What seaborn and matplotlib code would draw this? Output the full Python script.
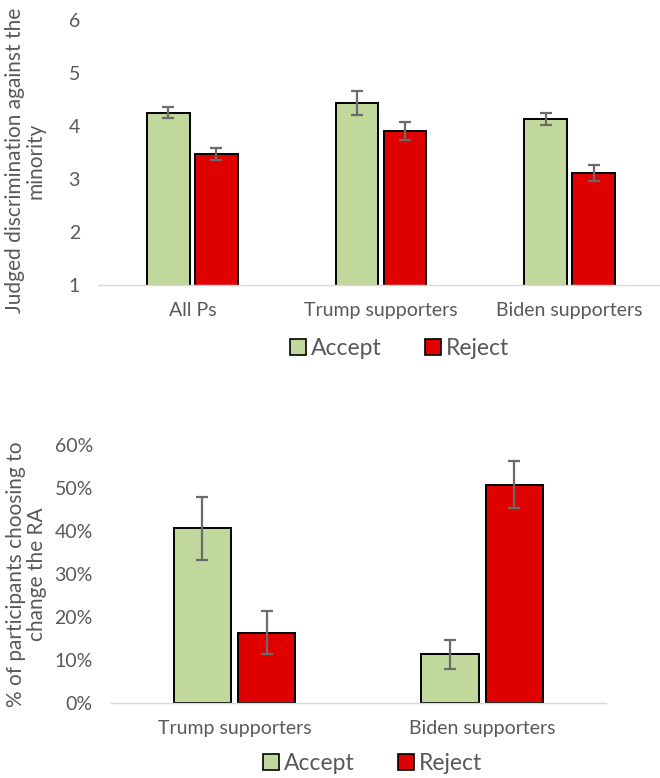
import matplotlib
matplotlib.use("Agg")
import matplotlib.pyplot as plt
import pandas as pd
import seaborn as sns
from matplotlib.patches import Patch
from matplotlib.ticker import FuncFormatter

# Judged discrimination (1-7 scale) by participant group and decision
conditions = ["Accept", "Reject"]
groups_top = ["All Ps", "Trump supporters", "Biden supporters"]
accept_top = [4.25, 4.43, 4.13]
reject_top = [3.47, 3.91, 3.12]
accept_top_err = [0.10, 0.23, 0.11]
reject_top_err = [0.11, 0.17, 0.15]

# Percentage of participants choosing to change the RA
groups_bottom = ["Trump supporters", "Biden supporters"]
accept_bottom = [40.6, 11.3]
reject_bottom = [16.3, 50.8]
accept_bottom_err = [7.3, 3.3]
reject_bottom_err = [5.0, 5.5]

colors = {"Accept": "#C0D89B", "Reject": "#DF0000"}
text_gray = "#595959"
font = ["Lato", "DejaVu Sans"]

sns.set_style("white")
plt.rcParams["font.family"] = font


def long_table(groups, acc, rej, acc_err, rej_err):
    rows = []
    for g, v, e in zip(groups, acc, acc_err):
        rows.append({"group": g, "condition": "Accept", "value": v, "err": e})
    for g, v, e in zip(groups, rej, rej_err):
        rows.append({"group": g, "condition": "Reject", "value": v, "err": e})
    return pd.DataFrame(rows)


def draw(ax, df, groups, width, gap, legend_anchor):
    sns.barplot(data=df, x="group", y="value", hue="condition",
                order=groups, hue_order=conditions, palette=colors,
                errorbar=None, width=width, gap=gap, saturation=1,
                edgecolor="black", linewidth=1.4, ax=ax)
    for cond, container in zip(conditions, ax.containers):
        sub = df[df.condition == cond].set_index("group").loc[groups]
        xs = [p.get_x() + p.get_width() / 2 for p in container.patches]
        ax.errorbar(xs, sub["value"].values, yerr=sub["err"].values,
                    fmt="none", ecolor="#6B6B6B", elinewidth=1.6,
                    capsize=4, capthick=1.6, zorder=5)
    if ax.get_legend() is not None:
        ax.get_legend().remove()
    for s in ["top", "right", "left"]:
        ax.spines[s].set_visible(False)
    ax.spines["bottom"].set_color("#D9D9D9")
    ax.spines["bottom"].set_linewidth(1.0)
    ax.tick_params(axis="both", length=0, labelsize=14, colors=text_gray)
    ax.tick_params(axis="x", pad=12)
    ax.tick_params(axis="y", pad=13)
    ax.set_xlabel("")
    handles = [Patch(facecolor=colors[c], edgecolor="black", linewidth=1.2,
                     label=c) for c in conditions]
    leg = ax.legend(handles=handles, loc="center", ncol=2, frameon=False,
                    bbox_to_anchor=legend_anchor, fontsize=16.5,
                    handlelength=0.7, handleheight=0.7, handletextpad=0.22,
                    columnspacing=1.9, borderpad=0, borderaxespad=0)
    for t in leg.get_texts():
        t.set_color(text_gray)


fig = plt.figure(figsize=(6.6, 7.78), dpi=100)

ax1 = fig.add_axes([0.1485, 0.6337, 0.8576, 0.3406])
df_top = long_table(groups_top, accept_top, reject_top,
                    accept_top_err, reject_top_err)
draw(ax1, df_top, groups_top, width=0.51, gap=0.115,
     legend_anchor=(0.533, -0.24))
ax1.set_ylim(1, 6)
ax1.set_yticks([1, 2, 3, 4, 5, 6])
ax1.set_xlim(-0.5, 2.5)
ax1.set_ylabel("Judged discrimination against the\nminority",
               fontsize=15, color=text_gray, linespacing=1.05)
ax1.yaxis.set_label_coords(-0.092, 0.47)

ax2 = fig.add_axes([0.168, 0.0964, 0.75, 0.3316])
df_bot = long_table(groups_bottom, accept_bottom, reject_bottom,
                    accept_bottom_err, reject_bottom_err)
draw(ax2, df_bot, groups_bottom, width=0.52, gap=0.11,
     legend_anchor=(0.529, -0.236))
ax2.set_ylim(0, 60)
ax2.set_yticks([0, 10, 20, 30, 40, 50, 60])
ax2.yaxis.set_major_formatter(FuncFormatter(lambda v, _: f"{v:.0f}%"))
ax2.set_xlim(-0.5, 1.5)
ax2.set_ylabel("% of participants choosing to\nchange the RA",
               fontsize=15, color=text_gray, linespacing=1.05)
ax2.yaxis.set_label_coords(-0.13, 0.5)

fig.savefig("out.png", dpi=100)
